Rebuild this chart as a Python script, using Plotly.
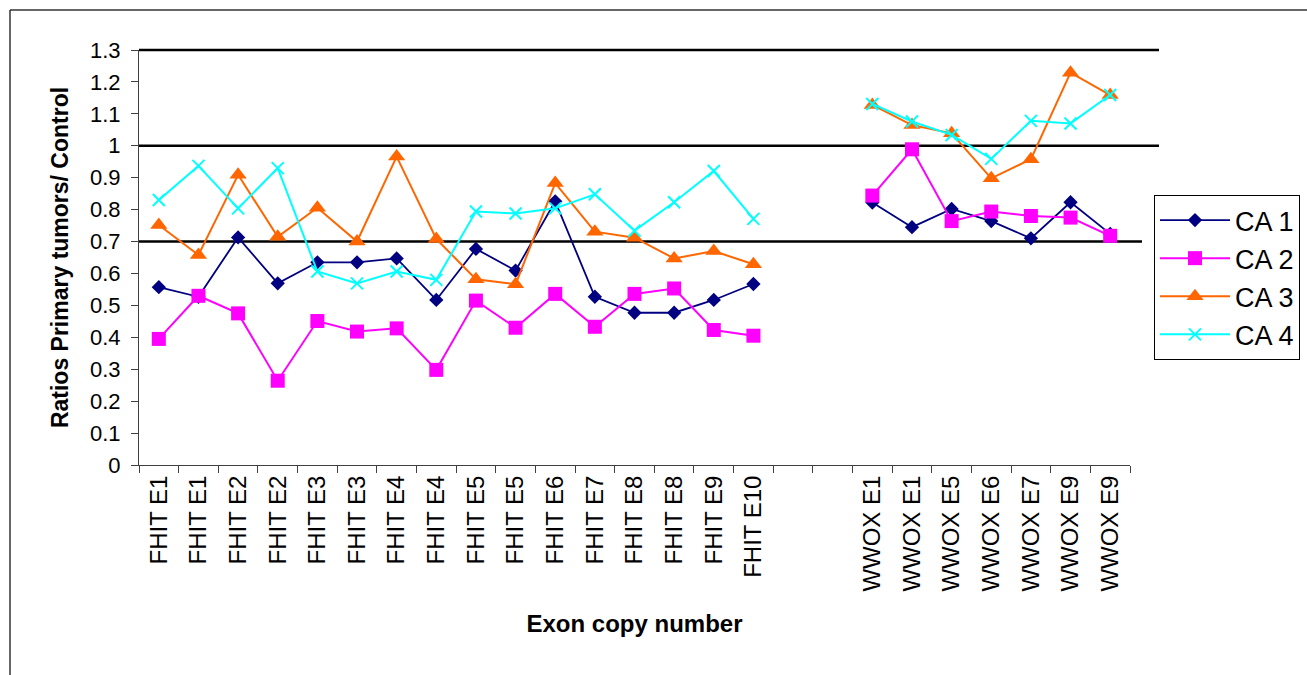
import plotly.graph_objects as go

categories = ["FHIT E1", "FHIT E1", "FHIT E2", "FHIT E2", "FHIT E3", "FHIT E3",
              "FHIT E4", "FHIT E4", "FHIT E5", "FHIT E5", "FHIT E6", "FHIT E7",
              "FHIT E8", "FHIT E8", "FHIT E9", "FHIT E10", "", "",
              "WWOX E1", "WWOX E1", "WWOX E5", "WWOX E6", "WWOX E7", "WWOX E9", "WWOX E9"]

ca1 = [0.557, 0.527, 0.713, 0.569, 0.635, 0.635, 0.647, 0.517, 0.677, 0.609, 0.826, 0.527,
       0.477, 0.477, 0.517, 0.567, None, None, 0.822, 0.745, 0.802, 0.764, 0.710, 0.823, 0.724]
ca2 = [0.395, 0.530, 0.475, 0.264, 0.451, 0.418, 0.428, 0.298, 0.515, 0.430, 0.536, 0.433,
       0.536, 0.553, 0.423, 0.405, None, None, 0.844, 0.989, 0.764, 0.794, 0.780, 0.775, 0.718]
ca3 = [0.752, 0.658, 0.909, 0.715, 0.806, 0.700, 0.966, 0.708, 0.582, 0.566, 0.883, 0.731,
       0.712, 0.647, 0.670, 0.629, None, None, 1.128, 1.065, 1.039, 0.898, 0.958, 1.229, 1.159]
ca4 = [0.830, 0.937, 0.804, 0.930, 0.606, 0.569, 0.606, 0.580, 0.794, 0.788, 0.804, 0.848,
       0.734, 0.823, 0.921, 0.771, None, None, 1.131, 1.076, 1.034, 0.959, 1.078, 1.070, 1.159]

series_names = ["CA 1", "CA 2", "CA 3", "CA 4"]
y_tick_values = [0, 0.1, 0.2, 0.3, 0.4, 0.5, 0.6, 0.7, 0.8, 0.9, 1.0, 1.1, 1.2, 1.3]
y_tick_labels = ["0", "0.1", "0.2", "0.3", "0.4", "0.5", "0.6", "0.7", "0.8", "0.9",
                 "1", "1.1", "1.2", "1.3"]
reference_levels = [0.7, 1.0, 1.3]
y_max = 1.3

FONT = "Liberation Sans, Arial, sans-serif"
x = list(range(len(categories)))

styles = [
    dict(color="#000080", symbol="diamond", size=11, lw=1.8),
    dict(color="#FF00FF", symbol="square", size=14, lw=2),
    dict(color="#FF6600", symbol="triangle-up", size=15, lw=2),
    dict(color="#00FFFF", symbol="x-thin", size=12, lw=2),
]

fig = go.Figure()
for name, vals, st in zip(series_names, [ca1, ca2, ca3, ca4], styles):
    fig.add_trace(go.Scatter(
        x=x, y=vals, name=name, mode="lines+markers", connectgaps=False,
        line=dict(color=st["color"], width=st["lw"]),
        marker=dict(symbol=st["symbol"], size=st["size"], color=st["color"],
                    line=dict(color=st["color"], width=2 if st["symbol"] == "x-thin" else 0)),
    ))

# plot-area pixel geometry (1307 x 675)
L, R, T, B = 139, 1130, 50, 465
W, H = R - L, B - T

def px_x(p):
    return (p - L) / W

def px_y(p):
    return (B - p) / H

shapes = []
ends = {0.7: 1142, 1.0: 1159, 1.3: 1159}
for lvl in reference_levels:
    shapes.append(dict(type="line", xref="paper", yref="paper",
                       x0=0, x1=px_x(ends[lvl]), y0=lvl / y_max, y1=lvl / y_max,
                       line=dict(color="black", width=2.5), layer="below"))
# outer chart frame (left and top edges)
shapes.append(dict(type="line", xref="paper", yref="paper",
                   x0=px_x(10), x1=px_x(1310), y0=px_y(10), y1=px_y(10),
                   line=dict(color="#333333", width=1.5)))
shapes.append(dict(type="line", xref="paper", yref="paper",
                   x0=px_x(10), x1=px_x(10), y0=px_y(10), y1=px_y(700),
                   line=dict(color="#333333", width=1.5)))

fig.update_layout(
    width=1307, height=675,
    margin=dict(l=L, r=1307 - R, t=T, b=675 - B, autoexpand=False),
    paper_bgcolor="white", plot_bgcolor="rgba(0,0,0,0)",
    font=dict(family=FONT, color="black"),
    showlegend=True,
    legend=dict(x=px_x(1154), y=px_y(195), xanchor="left", yanchor="top",
                bgcolor="white", bordercolor="black", borderwidth=1,
                font=dict(size=27, family=FONT), tracegroupgap=0, itemwidth=70),
    shapes=shapes,
    xaxis=dict(
        range=[-0.5, len(categories) - 0.5], showgrid=False, zeroline=False,
        tickmode="array", tickvals=x, ticktext=categories, tickangle=-90,
        ticks="", tickfont=dict(size=24), showline=True, linecolor="#404040", linewidth=1,
        minor=dict(tickmode="array", tickvals=[i - 0.5 for i in range(len(categories) + 1)],
                   ticks="outside", ticklen=7, tickcolor="#404040", showgrid=False),
        title=dict(text="<b>Exon copy number</b>", font=dict(size=24), standoff=24),
        automargin=False,
    ),
    yaxis=dict(
        range=[0, y_max], showgrid=False, zeroline=False,
        tickmode="array", tickvals=y_tick_values, ticktext=y_tick_labels,
        ticks="outside", ticklen=7, tickcolor="#404040", tickfont=dict(size=22),
        ticklabelstandoff=6,
        showline=True, linecolor="#404040", linewidth=1,
        title=dict(text="<b>Ratios Primary tumors/ Control</b>", font=dict(size=23), standoff=14),
        automargin=False,
    ),
)

fig.write_html("out.html", config={"displayModeBar": False},
               post_script="document.body.style.margin='0px';document.body.style.overflow='hidden';")
